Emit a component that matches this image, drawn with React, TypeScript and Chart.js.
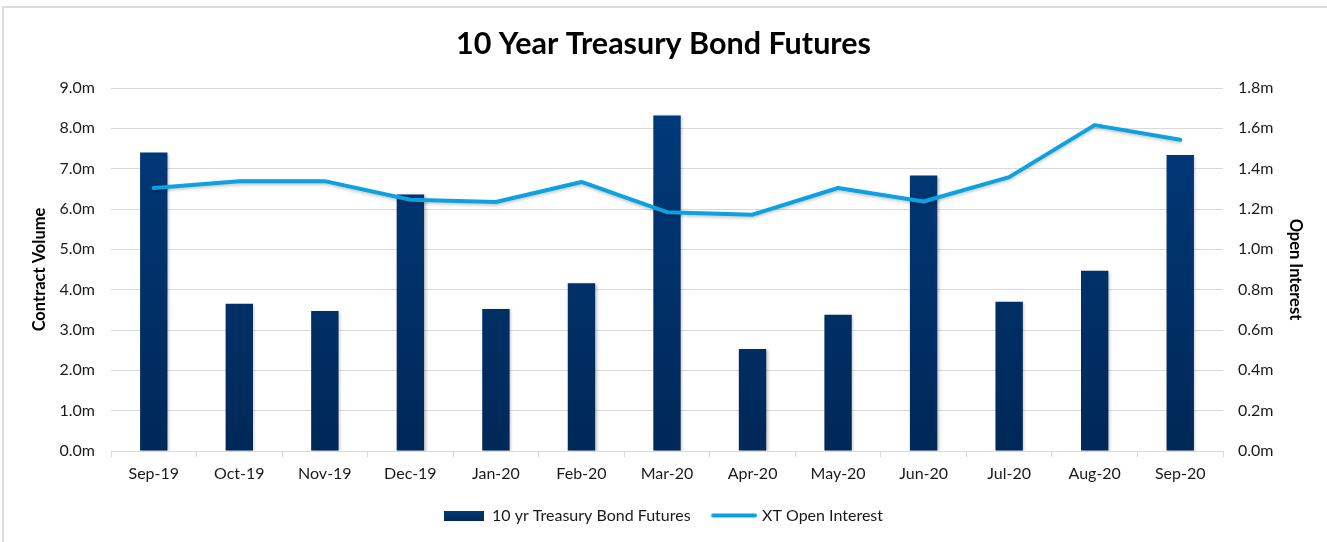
import React, { useEffect, useRef } from "react";
import { Chart, registerables } from "chart.js";

Chart.register(...registerables);

const categories = ["Sep-19", "Oct-19", "Nov-19", "Dec-19", "Jan-20", "Feb-20", "Mar-20", "Apr-20", "May-20", "Jun-20", "Jul-20", "Aug-20", "Sep-20"];
const contractVolume = [7.4, 3.65, 3.47, 6.36, 3.52, 4.16, 8.32, 2.53, 3.38, 6.83, 3.7, 4.47, 7.34];
const openInterest = [1.304, 1.338, 1.338, 1.246, 1.235, 1.334, 1.184, 1.172, 1.304, 1.237, 1.358, 1.616, 1.543];
const titleText = "10 Year Treasury Bond Futures";
const barLabel = "10 yr Treasury Bond Futures";
const lineLabel = "XT Open Interest";
const leftTitle = "Contract Volume";
const rightTitle = "Open Interest";

const FONT = "Lato, 'Open Sans', sans-serif";
const NAVY_TOP = "#003b7c";
const NAVY_BOTTOM = "#002858";
const LINE_BLUE = "#0ca1e0";

function makeBarIcon(): HTMLCanvasElement {
  const c = document.createElement("canvas");
  c.width = 40;
  c.height = 10;
  const ctx = c.getContext("2d")!;
  const g = ctx.createLinearGradient(0, 0, 0, 10);
  g.addColorStop(0, NAVY_TOP);
  g.addColorStop(1, NAVY_BOTTOM);
  ctx.fillStyle = g;
  ctx.fillRect(0, 0, 40, 10);
  return c;
}

function makeLineIcon(): HTMLCanvasElement {
  const c = document.createElement("canvas");
  c.width = 48;
  c.height = 8;
  const ctx = c.getContext("2d")!;
  ctx.strokeStyle = LINE_BLUE;
  ctx.lineWidth = 4;
  ctx.lineCap = "round";
  ctx.beginPath();
  ctx.moveTo(3, 4);
  ctx.lineTo(45, 4);
  ctx.stroke();
  return c;
}

const shadowPlugin = {
  id: "softShadow",
  beforeDatasetDraw(chart: any, args: any) {
    const ctx = chart.ctx;
    ctx.save();
    if (args.index === 0) {
      ctx.shadowColor = "rgba(0,0,0,0.25)";
      ctx.shadowBlur = 3;
      ctx.shadowOffsetX = 1.5;
      ctx.shadowOffsetY = 1;
    } else {
      ctx.shadowColor = "rgba(0,0,0,0.2)";
      ctx.shadowBlur = 3;
      ctx.shadowOffsetX = 0;
      ctx.shadowOffsetY = 2;
    }
  },
  afterDatasetDraw(chart: any) {
    chart.ctx.restore();
  },
};

export default function App() {
  const canvasRef = useRef<HTMLCanvasElement | null>(null);

  useEffect(() => {
    if (!canvasRef.current) return;
    const barIcon = makeBarIcon();
    const lineIcon = makeLineIcon();

    const chart = new Chart(canvasRef.current, {
      type: "bar",
      data: {
        labels: categories,
        datasets: [
          {
            type: "bar",
            label: barLabel,
            data: contractVolume,
            yAxisID: "y",
            backgroundColor: (ctx: any) => {
              const area = ctx.chart.chartArea;
              if (!area) return NAVY_TOP;
              const g = ctx.chart.ctx.createLinearGradient(0, area.top, 0, area.bottom);
              g.addColorStop(0, NAVY_TOP);
              g.addColorStop(1, NAVY_BOTTOM);
              return g;
            },
            borderWidth: 0,
            barPercentage: 0.32,
            categoryPercentage: 1,
            pointStyle: barIcon as any,
            order: 2,
          },
          {
            type: "line",
            label: lineLabel,
            data: openInterest,
            yAxisID: "y1",
            borderColor: LINE_BLUE,
            backgroundColor: LINE_BLUE,
            borderWidth: 4,
            tension: 0,
            pointRadius: 0,
            pointHoverRadius: 0,
            borderCapStyle: "round",
            borderJoinStyle: "round",
            pointStyle: lineIcon as any,
            order: 1,
          },
        ],
      },
      options: {
        animation: false,
        responsive: true,
        maintainAspectRatio: false,
        layout: { padding: { top: 0, left: 0, right: 0, bottom: 8.5 } },
        plugins: {
          title: {
            display: true,
            text: titleText,
            color: "#000",
            font: { family: FONT, size: 30.5, weight: "bold" },
            padding: { top: 26, bottom: 25.4 },
          },
          legend: {
            display: true,
            position: "bottom",
            labels: {
              usePointStyle: true,
              pointStyleWidth: 40,
              boxHeight: 10,
              padding: 23.5,
              color: "#1a1a1a",
              font: { family: FONT, size: 16 },
              sort: (a: any, b: any) => a.datasetIndex - b.datasetIndex,
            },
          },
          tooltip: { enabled: false },
        },
        scales: {
          x: {
            offset: true,
            grid: {
              display: true,
              drawOnChartArea: false,
              drawTicks: true,
              tickLength: 6,
              color: "#d9d9d9",
              offset: true,
            },
            border: { display: true, color: "#d9d9d9" },
            ticks: {
              color: "#1a1a1a",
              padding: 7.4,
              maxRotation: 0,
              autoSkip: false,
              font: { family: FONT, size: 16 },
            },
            afterFit: (scale: any) => {
              scale.height = 33;
            },
          },
          y: {
            position: "left",
            min: 0,
            max: 9,
            ticks: {
              stepSize: 1,
              padding: 16,
              color: "#1a1a1a",
              font: { family: FONT, size: 16 },
              callback: (v: any) => Number(v).toFixed(1) + "m",
            },
            grid: { color: "#d9d9d9", lineWidth: 1, drawTicks: false },
            border: { display: false },
            title: {
              display: true,
              text: leftTitle,
              color: "#000",
              font: { family: FONT, size: 16.5, weight: "bold" },
              padding: { top: 30, bottom: 0 },
            },
            afterFit: (scale: any) => {
              scale.width = 111;
            },
          },
          y1: {
            position: "right",
            min: 0,
            max: 1.8,
            ticks: {
              stepSize: 0.2,
              padding: 15,
              color: "#1a1a1a",
              font: { family: FONT, size: 16 },
              callback: (v: any) => Number(v).toFixed(1) + "m",
            },
            grid: { drawOnChartArea: false, drawTicks: false },
            border: { display: false },
            title: {
              display: true,
              text: rightTitle,
              color: "#000",
              font: { family: FONT, size: 16.5, weight: "bold" },
              padding: { top: 22, bottom: 0 },
            },
            afterFit: (scale: any) => {
              scale.width = 104;
            },
          },
        },
      },
      plugins: [shadowPlugin],
    } as any);

    return () => chart.destroy();
  }, []);

  return (
    <div style={{ position: "fixed", left: 0, top: 0, width: 1327, height: 542, background: "#fff", overflow: "hidden" }}>
      <div
        style={{
          position: "absolute",
          left: 2,
          top: 6,
          width: 1400,
          height: 600,
          border: "2px solid #dcdcdc",
          boxSizing: "border-box",
        }}
      />
      <div style={{ position: "absolute", left: 0, top: 0, width: 1327, height: 542 }}>
        <canvas ref={canvasRef} />
      </div>
    </div>
  );
}
